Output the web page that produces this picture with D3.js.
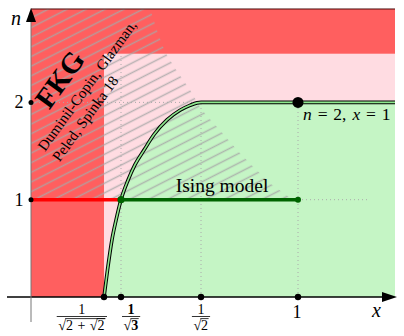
<!DOCTYPE html>
<html>
<head>
<meta charset="utf-8">
<script src="https://cdn.jsdelivr.net/npm/d3@7"></script>
<style>
  body { margin: 0; background: #fff; }
  svg { display: block; }
</style>
</head>
<body>
<svg id="chart" width="404" height="336"></svg>
<script>
// critical points x_c(n) marked on the x axis (n = 0, 1, 2)
const xcN = [0, 1, 2];
const xcValues = [0.5412, 0.5774, 0.7071];
// critical curve n(x)
const curveX = [0.5412, 0.5487, 0.5582, 0.5668, 0.5774, 0.5887, 0.6001, 0.6147, 0.6309, 0.652, 0.6731, 0.6893, 0.7006, 0.7071];
const curveN = [0, 0.28, 0.59, 0.79, 1, 1.2, 1.36, 1.51, 1.67, 1.82, 1.92, 1.97, 1.995, 2];
// right edge of the hatched FKG region
const hatchX = [0.6244, 0.6374, 0.6487, 0.665, 0.6893, 0.7055, 0.7282, 0.7705, 0.8158, 0.8641, 0.9155, 0.9758, 1];
const hatchN = [2.96, 2.71, 2.52, 2.35, 2.13, 1.95, 1.85, 1.69, 1.51, 1.34, 1.17, 1.02, 1];
const nTicks = [1, 2];
const xEnd = 1.3;
const nTop = 2.96;
const nPink = 2.5;
const isingX = [0.5774, 1];
const fkgX = [0, 0.5774];

const RED = '#ff5f5f', PINK = '#ffdce2', GREEN = '#c5f5c5';
const SERIF = 'Liberation Serif';

const svg = d3.select('#chart');

// schematic (non-linear) x axis, as in the original sketch
const x = d3.scaleLinear()
    .domain([0, xcValues[0], xcValues[1], xcValues[2], 1, xEnd])
    .range([31, 104, 121, 201, 298, 395]);
const y = d3.scaleLinear().domain([0, 3]).range([297, 5.1]);

// background regions
svg.append('rect')
    .attr('x', x(0)).attr('y', y(nPink))
    .attr('width', x(xEnd) - x(0)).attr('height', y(0) - y(nPink))
    .attr('fill', PINK);
svg.append('rect')
    .attr('x', x(0)).attr('y', y(nTop))
    .attr('width', x(xcValues[0]) - x(0)).attr('height', y(0) - y(nTop))
    .attr('fill', RED);
svg.append('rect')
    .attr('x', x(0)).attr('y', y(nTop))
    .attr('width', x(xEnd) - x(0)).attr('height', y(nPink) - y(nTop))
    .attr('fill', RED);

const curvePts = curveX.map((d, i) => [d, curveN[i]]).concat([[xEnd, 2]]);

svg.append('path')
    .datum(curvePts)
    .attr('d', d3.area().x(d => x(d[0])).y0(y(0)).y1(d => y(d[1])).curve(d3.curveMonotoneX))
    .attr('fill', GREEN);

// hatch
const defs = svg.append('defs');
const pat = defs.append('pattern')
    .attr('id', 'hatch')
    .attr('patternUnits', 'userSpaceOnUse')
    .attr('width', 12).attr('height', 8.6)
    .attr('patternTransform', 'rotate(-27)');
pat.append('line')
    .attr('x1', 0).attr('x2', 12).attr('y1', 4.3).attr('y2', 4.3)
    .attr('stroke', '#a8a8a8').attr('stroke-width', 1.5).attr('stroke-opacity', 0.8);

const hatchPts = [[0, 1], [0, nTop]].concat(hatchX.map((d, i) => [d, hatchN[i]]));
svg.append('path')
    .attr('d', d3.line().x(d => x(d[0])).y(d => y(d[1]))(hatchPts) + 'Z')
    .attr('fill', 'url(#hatch)');

// dotted guides
const dotted = [
    [[xcValues[1], 0], [xcValues[1], nPink]],
    [[xcValues[2], 0], [xcValues[2], 2]],
    [[1, 0], [1, 2]],
    [[0, 2], [xcValues[2], 2]],
    [[1, 1], [1.22, 1]],
];
svg.selectAll('.guide')
    .data(dotted)
    .enter()
    .append('line')
    .attr('x1', d => x(d[0][0])).attr('y1', d => y(d[0][1]))
    .attr('x2', d => x(d[1][0])).attr('y2', d => y(d[1][1]))
    .attr('stroke', '#aaa').attr('stroke-width', 1).attr('stroke-dasharray', '1,3');

// critical curve, double line
const curveLine = d3.line().x(d => x(d[0])).y(d => y(d[1])).curve(d3.curveMonotoneX);
svg.append('path').datum(curvePts).attr('d', curveLine)
    .attr('fill', 'none').attr('stroke', '#000').attr('stroke-width', 3.6);
svg.append('path').datum(curvePts).attr('d', curveLine)
    .attr('fill', 'none').attr('stroke', '#8ee88e').attr('stroke-width', 1.6);

// top border
svg.append('line')
    .attr('x1', x(0)).attr('x2', x(xEnd)).attr('y1', y(nTop)).attr('y2', y(nTop))
    .attr('stroke', '#4a0a0a').attr('stroke-width', 1);

// axes
svg.append('line')
    .attr('x1', 7).attr('x2', x(xEnd) - 12).attr('y1', y(0)).attr('y2', y(0))
    .attr('stroke', '#000').attr('stroke-width', 1.3);
svg.append('path')
    .attr('d', `M${x(xEnd) + 2},${y(0)} l-15,-5 l0,10 Z`)
    .attr('fill', '#000');
svg.append('line')
    .attr('x1', x(0)).attr('x2', x(0)).attr('y1', y(0) + 25).attr('y2', y(nTop) + 12)
    .attr('stroke', '#777').attr('stroke-width', 1);
svg.append('path')
    .attr('d', `M${x(0)},${y(nTop) - 1} l-5,14 l10,0 Z`)
    .attr('fill', '#000');

// n = 1 segments
svg.append('line')
    .attr('x1', x(fkgX[0])).attr('x2', x(fkgX[1])).attr('y1', y(1)).attr('y2', y(1))
    .attr('stroke', '#f00').attr('stroke-width', 3.5);
svg.append('line')
    .attr('x1', x(isingX[0])).attr('x2', x(isingX[1])).attr('y1', y(1)).attr('y2', y(1))
    .attr('stroke', '#006400').attr('stroke-width', 3.5);
svg.append('circle').attr('cx', x(isingX[0])).attr('cy', y(1)).attr('r', 3.6).attr('fill', '#006400');
svg.append('circle').attr('cx', x(isingX[1])).attr('cy', y(1)).attr('r', 3).attr('fill', '#006400');

// dots on axes
svg.selectAll('.xdot')
    .data(xcValues.concat([1]))
    .enter()
    .append('circle')
    .attr('cx', d => x(d)).attr('cy', y(0)).attr('r', 3.2).attr('fill', '#000');
svg.selectAll('.ydot')
    .data(nTicks)
    .enter()
    .append('circle')
    .attr('cx', x(0)).attr('cy', d => y(d)).attr('r', 2.5).attr('fill', '#000');
svg.append('circle').attr('cx', x(1)).attr('cy', y(2)).attr('r', 5.5).attr('fill', '#000');

function label(parent, px, py, size, str, opts = {}) {
    return parent.append('text')
        .attr('x', px).attr('y', py)
        .attr('text-anchor', opts.anchor || 'middle')
        .attr('font-family', SERIF)
        .attr('font-size', size)
        .attr('font-style', opts.italic ? 'italic' : 'normal')
        .attr('font-weight', opts.bold ? 'bold' : 'normal')
        .text(str);
}

// y tick labels
nTicks.forEach(d => label(svg, 19, y(d) + 6, 18, d));
label(svg, 16, 25, 20, 'n', { italic: true });
label(svg, 376.5, 317, 20, 'x', { italic: true });
label(svg, x(1) - 1, 318, 18, '1');

// fraction tick labels
const FS = 14;
function piece(g, x0, base, str, bold) {
    const t = label(g, x0, base, FS, str, { anchor: 'start', bold: bold });
    return t.node().getComputedTextLength();
}
function root(g, x0, base, bold, inner) {
    const w = piece(g, x0, base, '√', bold);
    const iw = inner(g, x0 + w, base);
    g.append('line')
        .attr('x1', x0 + w - 0.8).attr('x2', x0 + w + iw + 0.5)
        .attr('y1', base - 11.4).attr('y2', base - 11.4)
        .attr('stroke', '#000').attr('stroke-width', 0.8);
    return w + iw + 0.5;
}
function fracLabel(cx, anchor, bold, buildDen) {
    const g = svg.append('g');
    const den = g.append('g');
    const dw = buildDen(den, 0, 330);
    const bw = dw + 3;
    const left = anchor === 'end' ? cx - bw : anchor === 'start' ? cx : cx - bw / 2;
    den.attr('transform', `translate(${left + 1.5},0)`);
    g.append('line')
        .attr('x1', left).attr('x2', left + bw).attr('y1', 316.5).attr('y2', 316.5)
        .attr('stroke', '#000').attr('stroke-width', 0.8);
    label(g, left + bw / 2, 313.5, FS, '1', { bold: bold });
}
fracLabel(x(xcValues[0]) + 3, 'end', false, (g, x0, b) =>
    root(g, x0, b, false, (g2, x1, b2) => {
        const w = piece(g2, x1, b2, '2') + 4.5;
        const wp = piece(g2, x1 + w, b2, '+') + 4.5;
        return w + wp + root(g2, x1 + w + wp, b2, false, (g3, x2, b3) => piece(g3, x2, b3, '2'));
    }));
fracLabel(x(xcValues[1]) + 1, 'start', true, (g, x0, b) =>
    root(g, x0, b, true, (g2, x1, b2) => piece(g2, x1, b2, '3', true)));
fracLabel(x(xcValues[2]), 'middle', false, (g, x0, b) =>
    root(g, x0, b, false, (g2, x1, b2) => piece(g2, x1, b2, '2')));

// annotations
label(svg, 222, 192, 19.5, 'Ising model');

const pt = svg.append('text').attr('x', 303).attr('y', 119.5)
    .attr('font-family', SERIF).attr('font-size', 17.5)
    .attr('word-spacing', 1.5)
    .style('white-space', 'pre');
pt.append('tspan').attr('font-style', 'italic').text('n');
pt.append('tspan').text(' = 2, ');
pt.append('tspan').attr('font-style', 'italic').text('x');
pt.append('tspan').text(' = 1');

const fkg = svg.append('g').attr('transform', 'translate(45,152) rotate(-54)');
label(fkg, 36, -21, 29, 'FKG', { anchor: 'start', bold: true });
label(fkg, 0, 0, 15, 'Duminil-Copin, Glazman,', { anchor: 'start' });
label(fkg, 0, 18, 15, 'Peled, Spinka 18', { anchor: 'start' });
</script>
</body>
</html>
